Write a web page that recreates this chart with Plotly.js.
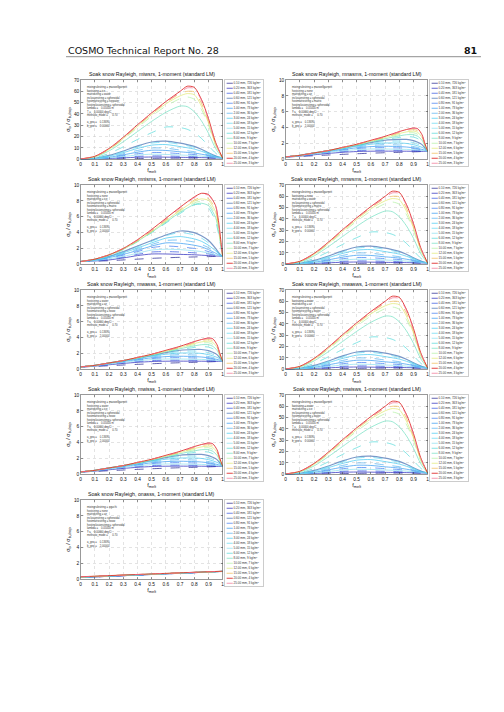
<!DOCTYPE html>
<html><head><meta charset="utf-8">
<script src="https://cdn.plot.ly/plotly-3.0.1.min.js"></script>
<style>html,body{margin:0;padding:0;background:#fff}</style>
</head><body>
<div id="chart" style="width:504px;height:712px"></div>
<script>
// ---------- data ----------
const diameters = ['0.10','0.20','0.40','0.60','0.80','1.00','2.00','3.00','4.00','5.00','6.00','8.00','10.00','12.00','15.00','20.00','25.00'];
const densities = [726,363,181,121,91,73,36,24,18,15,12,9,7,6,5,4,3];

const xA = [0,0.1,0.2,0.3,0.4,0.5,0.6,0.7,0.75,0.8,0.85,0.9,0.95,1];
const valuesA = [
 [0.1,0.15,0.25,0.4,0.6,0.8,0.95,1.05,1.08,1.1,1.1,1.05,1.02,1.0],
 [0.1,0.3,0.7,1.3,1.8,2.0,1.9,1.7,1.65,1.6,1.5,1.35,1.2,1.0],
 [0.1,0.35,0.9,1.8,2.6,3.0,2.9,2.6,2.45,2.3,2.0,1.7,1.35,1.0],
 [0.1,0.9,3.4,7.3,11.8,15.3,16,14.3,13,11.4,8.9,5.8,3.0,1.0],
 [0.1,0.45,1.5,3.2,4.9,6.0,5.8,5.0,4.6,4.2,3.5,2.7,1.8,1.0],
 [0.1,0.5,1.8,3.9,6.3,8.0,7.8,6.6,6.1,5.5,4.5,3.3,2.0,1.0],
 [0.1,0.6,2.2,4.8,7.8,10,9.8,8.2,7.5,6.7,5.4,3.8,2.2,1.0],
 [0.1,0.7,2.7,5.9,9.6,12.5,13,11.2,10.2,9.0,7.1,4.8,2.6,1.0],
 [0.1,0.8,3.1,6.8,11,14.3,15,13.2,12,10.5,8.2,5.4,2.8,1.0],
 [0.1,0.4,1.2,2.5,3.8,4.5,4.3,3.8,3.55,3.3,2.8,2.2,1.6,1.0],
 [0.2,1.4,5.2,11,17.5,23.5,28.5,28,26.5,23.5,18.5,12,5.5,1.0],
 [0.2,2,7.4,15.5,24.5,33.5,41.5,47,46.5,42,34,23,9.5,1.0],
 [0.3,2.3,8.4,17.6,28,38,47,53.5,55,53,44,30,12,1.0],
 [0.3,2.4,8.7,18.3,29,39.5,49,56,58,57,47,32,13,1.0],
 [0.3,2.5,9,18.8,29.8,40.3,50,58,60,59.5,49.5,33.5,13.5,1.0],
 [0.3,2.7,9.6,19.5,30.5,41,51,60,64.5,63.5,53,36,15,1.0],
 [0.3,2.6,9.3,19.2,30.2,40.6,50.5,59,63,62.5,52,35,14.5,1.0]
];

const xB = [0,0.1,0.2,0.3,0.4,0.5,0.6,0.7,0.8,0.85,0.9,0.95,0.97,0.99,1];
const valuesB = [
 [0.35,0.4,0.45,0.55,0.65,0.75,0.82,0.88,0.93,0.95,0.97,0.99,0.99,1.0,1.0],
 [0.35,0.42,0.55,0.8,1.1,1.3,1.3,1.25,1.2,1.15,1.1,1.05,1.03,1.01,1.0],
 [0.35,0.45,0.65,0.9,1.25,1.55,1.6,1.55,1.45,1.38,1.3,1.15,1.1,1.02,1.0],
 [0.35,0.6,1.0,1.6,2.3,3.0,3.7,4.2,4.0,3.6,3.0,2.0,1.5,1.1,1.0],
 [0.35,0.5,0.8,1.15,1.6,2.1,2.3,2.2,2.0,1.85,1.6,1.3,1.15,1.05,1.0],
 [0.35,0.5,0.85,1.25,1.75,2.3,2.7,2.65,2.4,2.2,1.85,1.4,1.2,1.05,1.0],
 [0.35,0.55,0.9,1.35,1.9,2.5,3.0,3.05,2.8,2.5,2.1,1.5,1.3,1.05,1.0],
 [0.35,0.55,0.95,1.45,2.05,2.7,3.3,3.5,3.2,2.9,2.4,1.7,1.35,1.1,1.0],
 [0.35,0.6,1.0,1.55,2.2,2.9,3.6,4.0,3.7,3.3,2.7,1.8,1.4,1.1,1.0],
 [0.35,0.45,0.7,1.0,1.4,1.8,1.9,1.85,1.7,1.6,1.4,1.2,1.1,1.02,1.0],
 [0.35,0.6,1.1,1.85,2.85,4.0,5.2,6.4,7.5,7.55,7.1,5.4,3.9,1.9,1.0],
 [0.35,0.65,1.15,1.9,2.9,4.05,5.3,6.55,7.55,7.7,7.4,5.9,4.3,2.0,1.0],
 [0.35,0.65,1.15,1.9,2.9,4.1,5.4,6.65,7.75,7.95,7.7,6.2,4.5,2.1,1.0],
 [0.35,0.65,1.2,1.95,2.95,4.15,5.5,6.8,7.95,8.25,8.05,6.6,4.8,2.2,1.0],
 [0.35,0.65,1.2,2.0,3.0,4.2,5.6,6.9,8.1,8.45,8.3,6.9,5.0,2.3,1.0],
 [0.35,0.65,1.2,2.0,3.1,4.4,5.8,7.2,8.5,8.95,8.8,7.4,5.5,2.5,1.0],
 [0.35,0.65,1.2,2.0,3.05,4.3,5.7,7.1,8.4,8.85,8.7,7.3,5.4,2.4,1.0]
];

const xC = [0,0.1,0.2,0.3,0.4,0.5,0.6,0.7,0.8,0.85,0.9,0.93,0.96,0.98,1];
const valuesC = [
 [0.3,0.36,0.45,0.54,0.62,0.7,0.77,0.83,0.88,0.91,0.94,0.96,0.98,0.99,1.0],
 [0.3,0.4,0.57,0.74,0.88,0.98,1.02,1.03,1.02,1.02,1.01,1.01,1.0,1.0,1.0],
 [0.3,0.43,0.62,0.82,0.98,1.1,1.15,1.15,1.13,1.12,1.1,1.08,1.06,1.04,1.0],
 [0.3,0.5,0.8,1.1,1.4,1.75,2.1,2.4,2.5,2.5,2.35,2.15,1.85,1.45,1.0],
 [0.3,0.47,0.7,0.95,1.15,1.35,1.45,1.47,1.43,1.4,1.33,1.27,1.2,1.1,1.0],
 [0.3,0.48,0.72,0.98,1.22,1.45,1.6,1.65,1.6,1.55,1.45,1.35,1.25,1.15,1.0],
 [0.3,0.5,0.75,1.0,1.3,1.55,1.75,1.85,1.8,1.75,1.6,1.5,1.35,1.2,1.0],
 [0.3,0.5,0.8,1.05,1.35,1.65,1.9,2.05,2.05,2.0,1.85,1.7,1.5,1.3,1.0],
 [0.3,0.5,0.8,1.1,1.4,1.7,2.0,2.25,2.3,2.25,2.1,1.9,1.65,1.35,1.0],
 [0.3,0.45,0.66,0.88,1.07,1.22,1.3,1.3,1.27,1.25,1.2,1.17,1.12,1.07,1.0],
 [0.3,0.5,0.8,1.1,1.4,1.75,2.15,2.5,2.75,2.85,2.8,2.6,2.2,1.6,1.0],
 [0.3,0.5,0.8,1.1,1.45,1.8,2.2,2.6,2.95,3.1,3.1,2.9,2.4,1.7,1.0],
 [0.3,0.5,0.8,1.1,1.45,1.85,2.25,2.7,3.1,3.3,3.35,3.15,2.6,1.8,1.0],
 [0.3,0.5,0.8,1.1,1.45,1.85,2.3,2.75,3.25,3.45,3.55,3.4,2.75,1.85,1.0],
 [0.3,0.5,0.8,1.1,1.5,1.9,2.35,2.8,3.35,3.6,3.75,3.6,2.9,1.9,1.0],
 [0.3,0.5,0.8,1.1,1.5,1.9,2.4,2.9,3.5,3.75,3.95,3.85,3.1,2.0,1.0],
 [0.3,0.5,0.8,1.1,1.5,1.9,2.35,2.85,3.45,3.7,3.9,3.8,3.05,1.95,1.0]
];

const xD = [0,0.25,0.5,0.75,1];
const valuesD = [
 [0.22,0.42,0.61,0.8,1.0],[0.23,0.42,0.61,0.81,1.0],[0.24,0.43,0.62,0.81,1.0],
 [0.25,0.44,0.63,0.81,1.0],[0.25,0.44,0.63,0.82,1.0],[0.26,0.45,0.63,0.82,1.0],
 [0.27,0.45,0.64,0.82,1.0],[0.27,0.46,0.64,0.82,1.0],[0.28,0.46,0.64,0.83,1.0],
 [0.28,0.47,0.65,0.83,1.0],[0.29,0.47,0.65,0.83,1.0],[0.29,0.48,0.66,0.83,1.0],
 [0.3,0.48,0.66,0.84,1.0],[0.3,0.49,0.66,0.84,1.0],[0.31,0.49,0.67,0.84,1.0],
 [0.32,0.5,0.68,0.85,1.02],[0.31,0.5,0.67,0.85,1.01]
];

const panelCodes = ['miwsrs','mnasms','mnisms','mnwsms','mwasss','mwasws','mwisss','mwisws','onasss'];
const panelTypes = ['A','C','B','A','C','A','C','A','D'];
const panelYMax = [70,10,10,70,10,70,10,70,10];
const panelMixing = ['maxwellgarnett','maxwellgarnett','maxwellgarnett','maxwellgarnett','maxwellgarnett','maxwellgarnett','maxwellgarnett','maxwellgarnett','oguchi'];
const panelHost = ['ice','none','none','none','water','water','water','water','none'];
const panelMatrix = ['water','air','ice','water','air','air','ice','ice','air'];
const panelHostMatrix = ['icewater','matrix','matrix','matrix','snow','water','snow','water','snow'];

// ---------- styles ----------
const lineColors = ['#1c1c8c','#2424bc','#3050e0','#7a98c8','#3c78f0','#3098f0','#50b0f0','#40c8f0','#60d8f0','#88e0f0','#50d8d8','#70e0c0','#b0f0a0','#e0e870','#f0b850','#e03030','#f07090'];
const lineDash = ['dash','solid','dash','solid','dash','solid','dash','solid','dash','solid','dash','solid','dash','solid','dash','solid','dash'];
const lineWidth = [0.7,0.7,0.7,1.2,0.7,0.7,0.7,0.7,0.7,0.7,0.7,0.7,0.7,0.7,0.7,0.9,0.7];

const W = 504, H = 712;
const fx = px => px / W, fy = py => 1 - py / H;
const rowTop = [80,185,290,395,500];
const colLeft = [80.7,285.7];
const plotW = 142, plotH = 79.3, legGap = 2, legW = 38.6, legH = 86;
const panelCol = [0,1,0,1,0,1,0,1,0];
const panelRow = [0,0,1,1,2,2,3,3,4];
const FONT = 'Liberation Sans, Arial, sans-serif';

const xs = {A:xA,B:xB,C:xC,D:xD};
const vals = {A:valuesA,B:valuesB,C:valuesC,D:valuesD};

const traces = [];
const layout = {
  width:W, height:H, margin:{l:0,r:0,t:0,b:0},
  paper_bgcolor:'#fff', plot_bgcolor:'#fff', showlegend:false,
  font:{family:FONT,color:'#222'},
  annotations:[], shapes:[]
};
const nm = i => i===1 ? '' : String(i);

panelCodes.forEach((code,p) => {
  const ax = 2*p+1, lg = 2*p+2;
  const L = colLeft[panelCol[p]], T = rowTop[panelRow[p]];
  const t = panelTypes[p];
  const ymax = panelYMax[p];
  layout['xaxis'+nm(ax)] = {
    domain:[fx(L),fx(L+plotW)], anchor:'y'+nm(ax), range:[0,1], dtick:0.1,
    showline:true, mirror:'ticks', linecolor:'#333', linewidth:0.5,
    ticks:'inside', ticklen:2, tickwidth:0.5, tickcolor:'#333',
    showgrid:true, gridcolor:'#c8c8c8', gridwidth:0.5, griddash:'dot', zeroline:false,
    tickfont:{size:4.8,family:FONT,color:'#111'},
    title:{text:'f<sub>melt</sub>', font:{size:5.5,family:FONT,color:'#111'}, standoff:1}
  };
  layout['yaxis'+nm(ax)] = {
    domain:[fy(T+plotH),fy(T)], anchor:'x'+nm(ax), range:[0,ymax], dtick:ymax===70?10:2,
    showline:true, mirror:'ticks', linecolor:'#333', linewidth:0.5,
    ticks:'inside', ticklen:2, tickwidth:0.5, tickcolor:'#333',
    showgrid:true, gridcolor:'#c8c8c8', gridwidth:0.5, griddash:'dot', zeroline:false,
    tickfont:{size:4.8,family:FONT,color:'#111'},
    title:{text:'σ<sub>b</sub> / σ<sub>b,drop</sub>', font:{size:5.5,family:FONT,color:'#111'}, standoff:2}
  };
  layout['xaxis'+nm(lg)] = {
    domain:[fx(L+plotW+legGap),fx(L+plotW+legGap+legW)], anchor:'y'+nm(lg), range:[0,1],
    showline:true, mirror:true, linecolor:'#999', linewidth:0.5,
    showgrid:false, zeroline:false, showticklabels:false, ticks:'', fixedrange:true
  };
  layout['yaxis'+nm(lg)] = {
    domain:[fy(T+legH),fy(T)], anchor:'x'+nm(lg), range:[17.55,0.35],
    showline:true, mirror:true, linecolor:'#999', linewidth:0.5,
    showgrid:false, zeroline:false, showticklabels:false, ticks:'', fixedrange:true
  };
  vals[t].forEach((row,i) => {
    traces.push({type:'scatter', mode:'lines', x:xs[t], y:row, xaxis:'x'+nm(ax), yaxis:'y'+nm(ax),
      line:{color:lineColors[i], width:lineWidth[i], dash:lineDash[i], shape:'spline', smoothing:0.7},
      hoverinfo:'skip'});
  });
  diameters.forEach((d,i) => {
    traces.push({type:'scatter', mode:'lines', x:[0.05,0.21], y:[i+1,i+1], xaxis:'x'+nm(lg), yaxis:'y'+nm(lg),
      line:{color:lineColors[i], width:lineWidth[i], dash:lineDash[i]}, hoverinfo:'skip'});
  });
  traces.push({type:'scatter', mode:'text', xaxis:'x'+nm(lg), yaxis:'y'+nm(lg),
    x:diameters.map(()=>0.23), y:diameters.map((d,i)=>i+1),
    text:diameters.map((d,i)=>d+' mm, '+densities[i]+' kg/m<sup>3</sup>'),
    textposition:'middle right', textfont:{size:3.0,family:FONT,color:'#333'}, hoverinfo:'skip'});
  layout.annotations.push({xref:'x'+nm(ax)+' domain', yref:'y'+nm(ax)+' domain', x:0.5, y:1, xanchor:'center', yanchor:'bottom',
    yshift:1, showarrow:false, text:'Soak snow Rayleigh, '+code+', 1-moment (standard LM)', font:{size:5.2,family:FONT,color:'#111'}});
  const info = [
    'mixingrulestring = '+panelMixing[p],
    'hoststring = '+panelHost[p],
    'matrixstring = '+panelMatrix[p],
    'inclusionstring = spheroidal',
    'hostmatrixstring = '+panelHostMatrix[p],
    'hostinclusionstring = spheroidal',
    'lambda =    0.05000 m',
    'T =    0.00000 deg C',
    'meltratio_mode =      0.70',
    ' ',
    'a_geo =    0.13690',
    'b_geo =    2.00000'
  ].join('<br>');
  layout.annotations.push({xref:'x'+nm(ax)+' domain', yref:'y'+nm(ax)+' domain', x:0.028, y:0.965, xanchor:'left', yanchor:'top',
    align:'left', showarrow:false, text:info, font:{size:2.7,family:FONT,color:'#333'}});
});

layout.annotations.push({xref:'paper', yref:'paper', x:fx(66), y:fy(50.5), xanchor:'left', yanchor:'middle', showarrow:false,
  text:'COSMO Technical Report No. 28', font:{size:9.5,family:'DejaVu Sans, sans-serif',color:'#111'}});
layout.annotations.push({xref:'paper', yref:'paper', x:fx(479), y:fy(50.5), xanchor:'right', yanchor:'middle', showarrow:false,
  text:'<b>81</b>', font:{size:9.5,family:'DejaVu Sans, sans-serif',color:'#111'}});
layout.shapes.push({type:'line', xref:'paper', yref:'paper', x0:fx(66), x1:fx(481), y0:fy(56.7), y1:fy(56.7), line:{color:'#444',width:0.6}});

Plotly.newPlot('chart', traces, layout, {staticPlot:true, displayModeBar:false});
</script>
</body></html>
